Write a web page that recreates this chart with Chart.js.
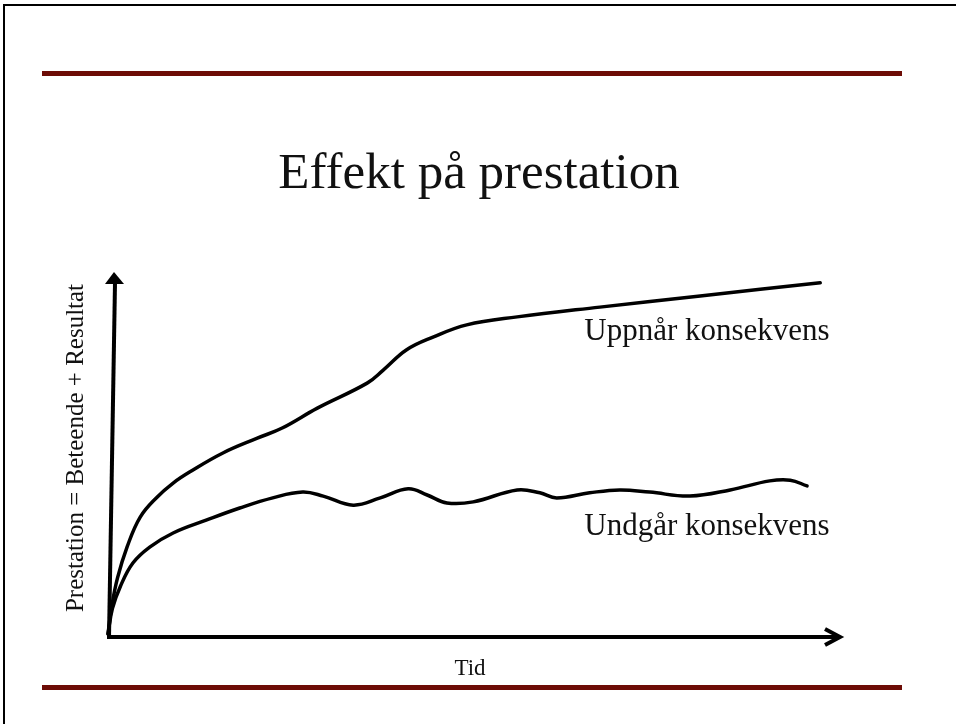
<!DOCTYPE html>
<html>
<head>
<meta charset="utf-8">
<title>Effekt på prestation</title>
<script src="https://cdn.jsdelivr.net/npm/chart.js@4/dist/chart.umd.min.js"></script>
<style>
  html, body { margin: 0; padding: 0; background: #fff; }
  #wrap { width: 956px; height: 724px; position: relative; }
</style>
</head>
<body>
<div id="wrap"><canvas id="grafik" width="956" height="724"></canvas></div>
<script>
// Rubriker och etiketter
const rubrik = 'Effekt på prestation';
const xTitel = 'Tid';
const yTitel = 'Prestation = Beteende + Resultat';
const serieNamn = ['Uppnår konsekvens', 'Undgår konsekvens'];

// Tid (0-100) och prestation (0-100)
const tidUppnar = [0, 0.5, 1.3, 2.6, 4.4, 6.7, 8.9, 11.2, 15.7, 20.4, 23.8, 28.6, 35.4, 37.6, 40.8, 44.4, 49.0, 55.9, 67.2, 80.9, 97.3];
const uppnar    = [0, 7.5, 15.5, 24.0, 32.3, 37.8, 41.7, 44.8, 50.0, 54.1, 56.9, 62.4, 69.3, 72.9, 78.5, 82.0, 85.4, 87.6, 90.3, 93.4, 97.0];

const tidUndgar = [0, 0.6, 1.7, 3.4, 5.7, 8.9, 13.5, 18.0, 22.5, 26.6, 29.4, 33.5, 37.2, 41.0, 43.6, 46.3, 49.9, 55.9, 59.0, 61.3, 65.8, 69.9, 74.0, 79.5, 85.0, 90.4, 93.2, 95.5];
const undgar    = [0, 7.0, 13.2, 19.6, 24.0, 27.9, 31.5, 34.8, 37.6, 39.2, 38.1, 35.6, 37.6, 40.1, 38.4, 36.2, 36.5, 39.8, 39.0, 37.6, 39.0, 39.8, 39.2, 38.1, 39.8, 42.3, 42.5, 40.9];

const rod = '#6d0c06';
const serif = '"Liberation Serif", "DejaVu Serif", serif';

// Ram, röda linjer, pilar och texter
const bildPlugin = {
  id: 'bild',
  beforeDraw(chart) {
    const ctx = chart.ctx;
    ctx.save();
    ctx.fillStyle = '#fff';
    ctx.fillRect(0, 0, chart.width, chart.height);
    // ram
    ctx.strokeStyle = '#000';
    ctx.lineWidth = 2;
    ctx.strokeRect(4, 5, chart.width + 10, chart.height + 10);
    // röda linjer
    ctx.fillStyle = rod;
    ctx.fillRect(42, 71, 860, 5);
    ctx.fillRect(42, 685, 860, 5);
    // rubrik
    ctx.fillStyle = '#111';
    ctx.textAlign = 'center';
    ctx.textBaseline = 'alphabetic';
    ctx.font = '51px ' + serif;
    ctx.fillText(rubrik, 479, 188);
    ctx.restore();
  },
  afterDatasetsDraw(chart) {
    const ctx = chart.ctx;
    const xs = chart.scales.x, ys = chart.scales.y;
    const x0 = xs.getPixelForValue(0), y0 = ys.getPixelForValue(0) + 2;
    const xMax = xs.getPixelForValue(100), yMax = ys.getPixelForValue(100);
    ctx.save();
    ctx.strokeStyle = '#000';
    ctx.fillStyle = '#000';
    ctx.lineWidth = 4;
    ctx.lineCap = 'butt';
    // y-axel (något lutande, som i originalet)
    ctx.beginPath();
    ctx.moveTo(x0 + 1, y0 + 1);
    ctx.lineTo(x0 + 7, yMax + 11);
    ctx.stroke();
    ctx.beginPath();
    ctx.moveTo(x0 + 6, yMax);
    ctx.lineTo(x0 + 16, yMax + 12);
    ctx.lineTo(x0 - 3, yMax + 12);
    ctx.closePath();
    ctx.fill();
    // x-axel
    ctx.beginPath();
    ctx.moveTo(x0 - 1, y0 + 1);
    ctx.lineTo(xMax - 1, y0 + 1);
    ctx.stroke();
    ctx.lineJoin = 'miter';
    ctx.beginPath();
    ctx.moveTo(xMax - 15, y0 - 7);
    ctx.lineTo(xMax, y0 + 1);
    ctx.lineTo(xMax - 15, y0 + 9);
    ctx.stroke();
    // texter
    ctx.fillStyle = '#111';
    ctx.textAlign = 'center';
    ctx.textBaseline = 'alphabetic';
    ctx.font = '31px ' + serif;
    ctx.fillText(serieNamn[0], 707, 340);
    ctx.fillText(serieNamn[1], 707, 535);
    ctx.font = '23px ' + serif;
    ctx.fillText(xTitel, 470, 675);
    ctx.translate(83, 448);
    ctx.rotate(-Math.PI / 2);
    ctx.font = '25px ' + serif;
    ctx.fillText(yTitel, 0, 0);
    ctx.restore();
  }
};

const linje = {
  borderColor: '#000',
  borderWidth: 3.5,
  pointRadius: 0,
  fill: false,
  showLine: true,
  tension: 0.4,
  borderJoinStyle: 'round',
  borderCapStyle: 'round'
};

new Chart(document.getElementById('grafik'), {
  type: 'scatter',
  data: {
    datasets: [
      Object.assign({ label: serieNamn[0], data: tidUppnar.map((t, i) => ({ x: t, y: uppnar[i] })) }, linje),
      Object.assign({ label: serieNamn[1], data: tidUndgar.map((t, i) => ({ x: t, y: undgar[i] })) }, linje)
    ]
  },
  options: {
    responsive: false,
    animation: false,
    events: [],
    clip: false,
    layout: { padding: { left: 108, right: 116, top: 272, bottom: 90 } },
    plugins: {
      legend: { display: false },
      tooltip: { enabled: false },
      title: { display: false }
    },
    scales: {
      x: { type: 'linear', min: 0, max: 100, display: false },
      y: { type: 'linear', min: 0, max: 100, display: false }
    }
  },
  plugins: [bildPlugin]
});
</script>
</body>
</html>
